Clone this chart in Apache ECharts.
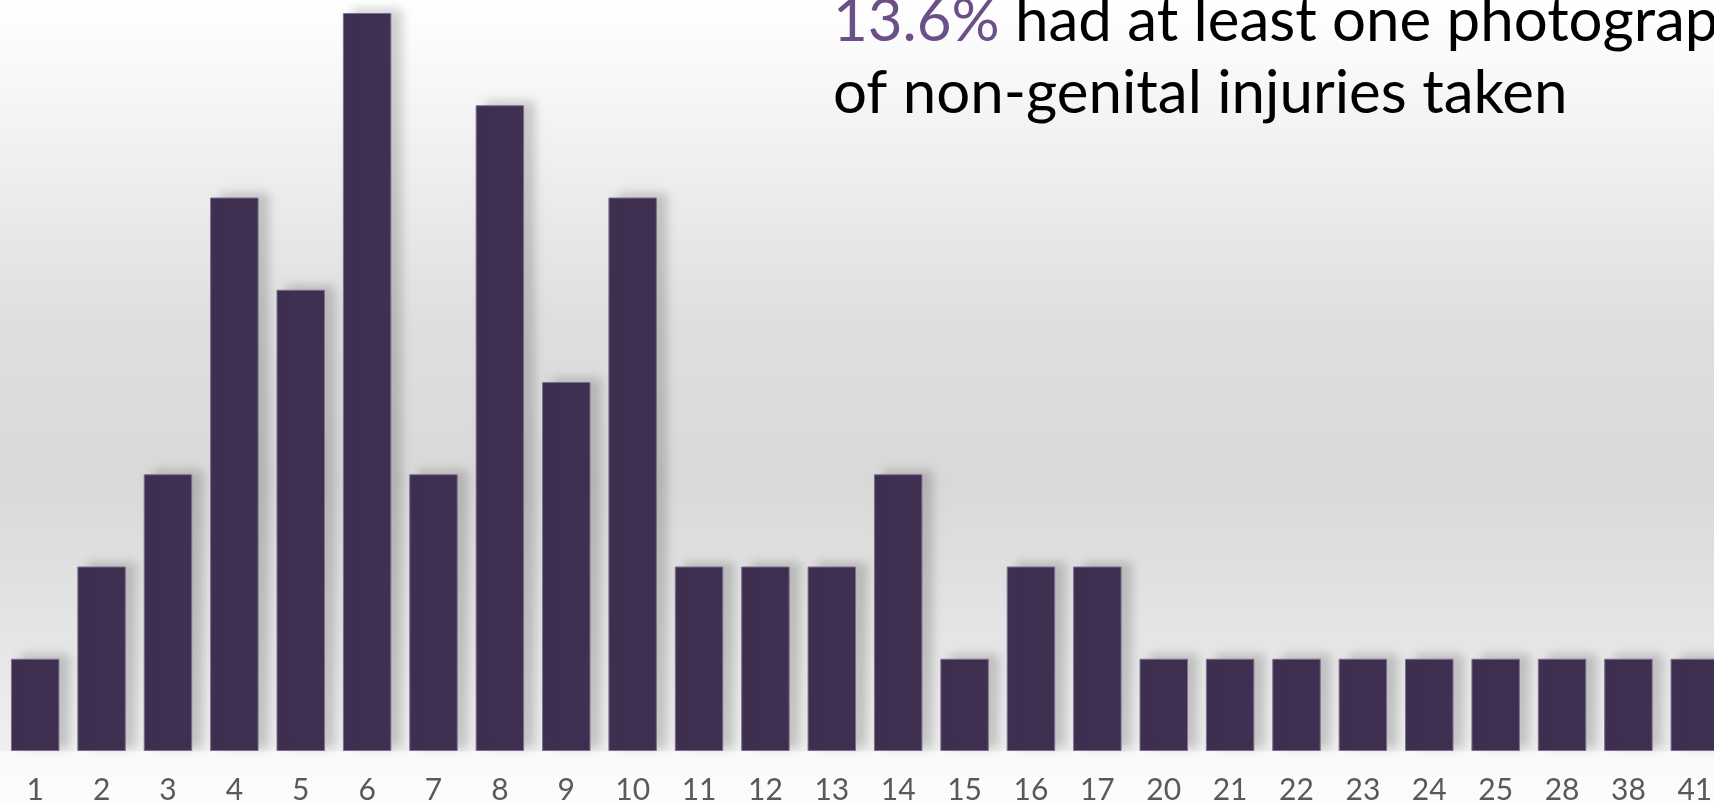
<!DOCTYPE html>
<html>
<head>
<meta charset="utf-8">
<script src="https://cdn.jsdelivr.net/npm/echarts@6/dist/echarts.min.js"></script>
<style>
  html, body { margin: 0; padding: 0; }
  #chart { width: 1714px; height: 804px; }
</style>
</head>
<body>
<div id="chart"></div>
<script>
// number of photographs (x) and count of cases (y)
var categories = ["1", "2", "3", "4", "5", "6", "7", "8", "9", "10", "11", "12", "13",
  "14", "15", "16", "17", "20", "21", "22", "23", "24", "25", "28", "38", "41"];
var counts = [1, 2, 3, 6, 5, 8, 3, 7, 4, 6, 2, 2, 2, 3, 1, 2, 2, 1, 1, 1, 1, 1, 1, 1, 1, 1];
var headline = "13.6%";
var caption = " had at least one photograph\nof non-genital injuries taken";

var myChart = echarts.init(document.getElementById("chart"));
myChart.setOption({
  animation: false,
  graphic: [
    {
      type: "rect",
      z: -10,
      silent: true,
      shape: { x: 0, y: 0, width: 1714, height: 804 },
      style: {
        fill: {
          type: "linear",
          x: 0, y: 0, x2: 0, y2: 1,
          colorStops: [
            { offset: 0, color: "#ffffff" },
            { offset: 0.12, color: "#f6f6f6" },
            { offset: 0.4, color: "#dfdfdf" },
            { offset: 0.6, color: "#d9d9d9" },
            { offset: 0.8, color: "#e6e6e6" },
            { offset: 0.934, color: "#f0f0f0" },
            { offset: 0.935, color: "#fafafa" },
            { offset: 1, color: "#fcfcfc" }
          ]
        }
      }
    }
  ],
  title: {
    text: "{a|" + headline + "}" + caption,
    left: 833,
    top: -14,
    padding: 0,
    textStyle: {
      fontFamily: "Lato",
      fontSize: 60,
      fontWeight: "normal",
      color: "#000000",
      lineHeight: 72,
      rich: {
        a: {
          fontFamily: "Lato",
          fontSize: 60,
          color: "#6b5088",
          lineHeight: 72
        }
      }
    }
  },
  grid: {
    left: 2,
    top: 13,
    width: 1726,
    height: 738,
    outerBoundsMode: "none"
  },
  xAxis: {
    type: "category",
    data: categories,
    axisLine: { show: false },
    axisTick: { show: false },
    axisLabel: {
      color: "#595959",
      fontFamily: "Lato",
      fontSize: 30,
      margin: 24
    }
  },
  yAxis: {
    type: "value",
    min: 0,
    max: 8,
    show: false,
    splitLine: { show: false }
  },
  series: [
    {
      type: "bar",
      data: counts,
      barCategoryGap: "27%",
      itemStyle: {
        color: "#3f3052",
        borderColor: "#7d6e8f",
        borderWidth: 1,
        shadowColor: "rgba(0,0,0,0.18)",
        shadowBlur: 10,
        shadowOffsetX: 10,
        shadowOffsetY: -4
      }
    }
  ]
});
</script>
</body>
</html>
